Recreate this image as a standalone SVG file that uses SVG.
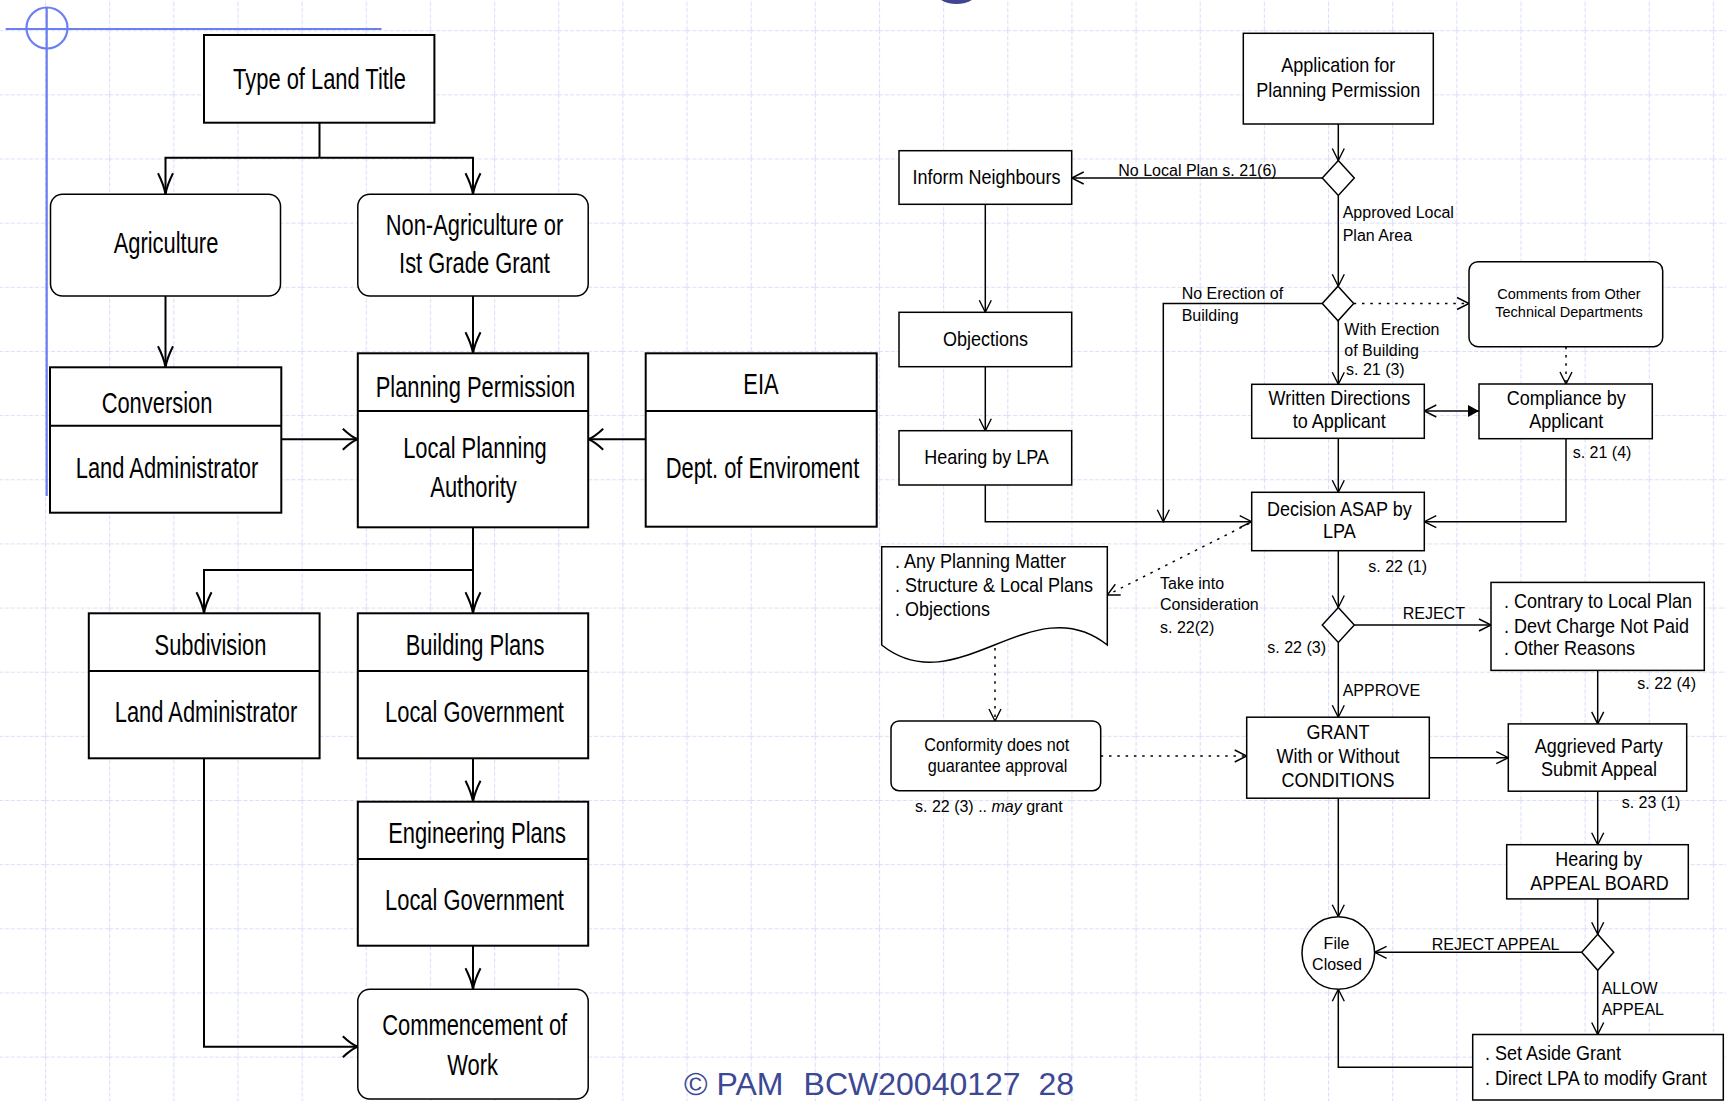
<svg xmlns="http://www.w3.org/2000/svg" width="1726" height="1101" viewBox="0 0 1726 1101">
<defs>
  <pattern id="grid" patternUnits="userSpaceOnUse" x="45" y="30.2" width="64.15" height="64.15">
    <path d="M0 0.5H64.15M0.5 0V64.15" fill="none" stroke="#d9def9" stroke-width="1.2" stroke-dasharray="4 2"/>
  </pattern>
  <!-- open arrowheads for the land-use chart (drawn narrower horizontally) -->
  <marker id="aLv" markerUnits="userSpaceOnUse" markerWidth="30" markerHeight="30" refX="0" refY="0" orient="auto" overflow="visible">
    <path d="M-21,-7.5 Q-9,-1.5 0,0 Q-9,1.5 -21,7.5" fill="none" stroke="#000" stroke-width="2"/>
  </marker>
  <marker id="aLh" markerUnits="userSpaceOnUse" markerWidth="30" markerHeight="30" refX="0" refY="0" orient="auto" overflow="visible">
    <path d="M-15,-10.5 Q-6,-2 0,0 Q-6,2 -15,10.5" fill="none" stroke="#000" stroke-width="2"/>
  </marker>
  <!-- open and filled arrowheads for the permission flowchart -->
  <marker id="aR" markerUnits="userSpaceOnUse" markerWidth="30" markerHeight="30" refX="0" refY="0" orient="auto" overflow="visible">
    <path d="M-12,-6 L0,0 L-12,6" fill="none" stroke="#000" stroke-width="1.4"/>
  </marker>
  <marker id="aF" markerUnits="userSpaceOnUse" markerWidth="30" markerHeight="30" refX="0" refY="0" orient="auto-start-reverse" overflow="visible">
    <path d="M-11,-6 L0,0 L-11,6 Z" fill="#000" stroke="none"/>
  </marker>
</defs>
<style>
  .bx{fill:#fff;stroke:#000;stroke-width:2}
  .rbx{fill:#fff;stroke:#000;stroke-width:1.5}
  .dv{stroke:#000;stroke-width:2;fill:none}
  .L{font-family:"Liberation Sans",Arial,sans-serif;font-size:30px;text-anchor:middle;fill:#000}
  .b2{fill:#fff;stroke:#000;stroke-width:1.5}
  .R{font-family:"Liberation Sans",Arial,sans-serif;font-size:20px;text-anchor:middle;fill:#000}
  .Rs{font-family:"Liberation Sans",Arial,sans-serif;font-size:20px;fill:#000}
  .C{font-family:"Liberation Sans",Arial,sans-serif;font-size:18px;text-anchor:middle;fill:#000}
  .T{font-family:"Liberation Sans",Arial,sans-serif;font-size:14.5px;text-anchor:middle;fill:#000}
  .lb{font-family:"Liberation Sans",Arial,sans-serif;font-size:16px;fill:#000}
  .lbm{font-family:"Liberation Sans",Arial,sans-serif;font-size:16px;fill:#000;text-anchor:middle}
  .cv{fill:none;stroke:#000;stroke-width:2;marker-end:url(#aLv)}
  .ch{fill:none;stroke:#000;stroke-width:2;marker-end:url(#aLh)}
  .cn{fill:none;stroke:#000;stroke-width:2}
  .cr{fill:none;stroke:#000;stroke-width:1.5;marker-end:url(#aR)}
  .cd{fill:none;stroke:#000;stroke-width:1.5;stroke-dasharray:2.5 5.8;marker-end:url(#aR)}
  .mark{fill:none;stroke:#6a7ff1;stroke-width:2.2}
</style>

<!-- page background and grid -->
<rect width="1726" height="1101" fill="#fff"/>
<rect width="1726" height="1101" fill="url(#grid)"/>

<!-- slide corner marks -->
<g id="slide-marks">
  <path class="mark" d="M5.7 29H381.5M46.7 7V496"/>
  <circle class="mark" cx="47" cy="28" r="20.5"/>
  <ellipse cx="956.5" cy="-10" rx="22" ry="14" fill="#3f4590"/>
</g>

<!-- ===== connectors ===== -->
<g id="connectors">
  <!-- land-use chart -->
  <path class="cn" d="M319.5 122.7V157.7"/>
  <path class="cv" d="M319.5 157.7H165.5V194.3"/>
  <path class="cv" d="M319.5 157.7H473V194.3"/>
  <path class="cv" d="M165.5 296V367.3"/>
  <path class="cv" d="M473 296V353.3"/>
  <path class="ch" d="M281.3 439.3H357.8"/>
  <path class="ch" d="M645.7 439.3H588.2"/>
  <path class="cv" d="M473 527.3V570H204V613.3"/>
  <path class="cv" d="M473 570V613.3"/>
  <path class="ch" d="M204 758.3V1046.7H357.8"/>
  <path class="cv" d="M473 758.3V801.7"/>
  <path class="cv" d="M473 945.7V989.3"/>

  <!-- planning permission flow -->
  <path class="cr" d="M1338.3 124V160.5"/>
  <path class="cr" d="M1322.3 178H1071.7"/>
  <path class="cr" d="M1338.3 195.5V286.2"/>
  <path class="cr" d="M985.3 204.3V312.3"/>
  <path class="cr" d="M985.3 366.7V430.7"/>
  <path class="cr" d="M985.3 485V521.7H1251.7"/>
  <path class="cr" d="M1322.3 303.5H1163.3V521.7"/>
  <path class="cd" d="M1353.7 303.5H1469"/>
  <path class="cr" d="M1338.3 320.8V384.3"/>
  <path class="cd" d="M1566 346.7V384"/>
  <path class="cr" d="M1479 411H1424.3" style="marker-start:url(#aF)"/>
  <path class="cr" d="M1566 438.7V521.7H1424.3"/>
  <path class="cr" d="M1338.3 438.3V492.3"/>
  <path class="cd" d="M1249 523.5L1107.3 595"/>
  <path class="cr" d="M1338.3 550.7V607.5"/>
  <path class="cr" d="M1354.3 625H1491"/>
  <path class="cr" d="M1338.3 642.5V717.2"/>
  <path class="cd" d="M995 648V721"/>
  <path class="cd" d="M1100.7 756H1246.7"/>
  <path class="cr" d="M1597.7 670.4V723.9"/>
  <path class="cr" d="M1429.3 757.7H1508.3"/>
  <path class="cr" d="M1338.3 798.2V916.7"/>
  <path class="cr" d="M1597.7 791.2V844.7"/>
  <path class="cr" d="M1597.7 898.9V934.3"/>
  <path class="cr" d="M1581.7 952.3H1374.6"/>
  <path class="cr" d="M1597.7 970.3V1034.5"/>
  <path class="cr" d="M1472.7 1067.2H1338.3V989.3"/>

  <!-- connector labels -->
  <text class="lb" x="1118.3" y="176">No Local Plan s. 21(6)</text>
  <text class="lb" x="1342.7" y="218.3">Approved Local</text>
  <text class="lb" x="1342.7" y="240.7">Plan Area</text>
  <text class="lb" x="1181.7" y="299">No Erection of</text>
  <text class="lb" x="1181.7" y="320.7">Building</text>
  <text class="lb" x="1344.3" y="334.5">With Erection</text>
  <text class="lb" x="1344.3" y="356">of Building</text>
  <text class="lb" x="1346" y="375">s. 21 (3)</text>
  <text class="lb" x="1572.7" y="458.3">s. 21 (4)</text>
  <text class="lb" x="1368.3" y="572">s. 22 (1)</text>
  <text class="lb" x="1160" y="589.3">Take into</text>
  <text class="lb" x="1160" y="610">Consideration</text>
  <text class="lb" x="1160" y="633.3">s. 22(2)</text>
  <text class="lb" x="1267.3" y="653.3">s. 22 (3)</text>
  <text class="lb" x="1402.7" y="619.4">REJECT</text>
  <text class="lb" x="1342.7" y="696.3">APPROVE</text>
  <text class="lb" x="1637.3" y="689.4">s. 22 (4)</text>
  <text class="lb" x="915" y="811.7">s. 22 (3) .. <tspan font-style="italic">may</tspan> grant</text>
  <text class="lb" x="1621.7" y="808.4">s. 23 (1)</text>
  <text class="lb" x="1431.7" y="949.9">REJECT APPEAL</text>
  <text class="lb" x="1601.7" y="994">ALLOW</text>
  <text class="lb" x="1601.7" y="1014.8">APPEAL</text>
</g>

<!-- ===== land-use chart nodes ===== -->
<g id="land-title">
  <rect class="bx" x="204" y="35" width="230.4" height="87.7"/>
  <text class="L" transform="translate(319.5 89) scale(.73 1)">Type of Land Title</text>
</g>
<g id="agriculture">
  <rect class="rbx" x="50.5" y="194.3" width="230" height="101.7" rx="12"/>
  <text class="L" transform="translate(166 253) scale(.73 1)">Agriculture</text>
</g>
<g id="non-agriculture">
  <rect class="rbx" x="357.8" y="194.3" width="230.4" height="101.7" rx="12"/>
  <text class="L" transform="translate(474.5 235) scale(.73 1)">Non-Agriculture or</text>
  <text class="L" transform="translate(474.5 273) scale(.73 1)">Ist Grade Grant</text>
</g>
<g id="conversion">
  <rect class="bx" x="50" y="367.3" width="231.3" height="145.4"/>
  <path class="dv" d="M50 425.7H281.3"/>
  <text class="L" transform="translate(157 413.3) scale(.73 1)">Conversion</text>
  <text class="L" transform="translate(167 478.3) scale(.73 1)">Land Administrator</text>
</g>
<g id="planning-permission">
  <rect class="bx" x="357.8" y="353.3" width="230.4" height="174"/>
  <path class="dv" d="M357.8 411H588.2"/>
  <text class="L" transform="translate(475.5 396.7) scale(.73 1)">Planning Permission</text>
  <text class="L" transform="translate(475 458.3) scale(.73 1)">Local Planning</text>
  <text class="L" transform="translate(473.5 496.7) scale(.73 1)">Authority</text>
</g>
<g id="eia">
  <rect class="bx" x="645.7" y="353.3" width="231" height="173.4"/>
  <path class="dv" d="M645.7 411H876.7"/>
  <text class="L" transform="translate(761 394) scale(.73 1)">EIA</text>
  <text class="L" transform="translate(762.5 478.3) scale(.73 1)">Dept. of Enviroment</text>
</g>
<g id="subdivision">
  <rect class="bx" x="88.8" y="613.3" width="230.8" height="145"/>
  <path class="dv" d="M88.8 671H319.6"/>
  <text class="L" transform="translate(210.5 655) scale(.73 1)">Subdivision</text>
  <text class="L" transform="translate(206 722) scale(.73 1)">Land Administrator</text>
</g>
<g id="building-plans">
  <rect class="bx" x="357.8" y="613.3" width="230.4" height="145"/>
  <path class="dv" d="M357.8 671H588.2"/>
  <text class="L" transform="translate(475 655) scale(.73 1)">Building Plans</text>
  <text class="L" transform="translate(474.5 722) scale(.73 1)">Local Government</text>
</g>
<g id="engineering-plans">
  <rect class="bx" x="357.8" y="801.7" width="230.4" height="144"/>
  <path class="dv" d="M357.8 859H588.2"/>
  <text class="L" transform="translate(477 843.3) scale(.73 1)">Engineering Plans</text>
  <text class="L" transform="translate(474.5 910) scale(.73 1)">Local Government</text>
</g>
<g id="commencement">
  <rect class="rbx" x="357.8" y="989.3" width="230.4" height="109.7" rx="12"/>
  <text class="L" transform="translate(474.7 1035) scale(.73 1)">Commencement of</text>
  <text class="L" transform="translate(472.6 1075) scale(.73 1)">Work</text>
</g>

<!-- ===== planning permission flow nodes ===== -->
<g id="application">
  <rect class="b2" x="1243.3" y="33.3" width="190" height="90.7"/>
  <text class="R" transform="translate(1338.3 71.7) scale(.9 1)">Application for</text>
  <text class="R" transform="translate(1338.3 96.7) scale(.9 1)">Planning Permission</text>
</g>
<g id="local-plan-check">
  <polygon class="b2" points="1338.3,160.5 1354.3,178 1338.3,195.5 1322.3,178"/>
</g>
<g id="inform-neighbours">
  <rect class="b2" x="899" y="150.7" width="172.7" height="53.6"/>
  <text class="R" transform="translate(986.5 184) scale(.9 1)">Inform Neighbours</text>
</g>
<g id="objections">
  <rect class="b2" x="899" y="312.3" width="172.7" height="54.4"/>
  <text class="R" transform="translate(985.5 346) scale(.9 1)">Objections</text>
</g>
<g id="hearing-lpa">
  <rect class="b2" x="899" y="430.7" width="172.7" height="54.3"/>
  <text class="R" transform="translate(986.5 464.3) scale(.9 1)">Hearing by LPA</text>
</g>
<g id="erection-check">
  <polygon class="b2" points="1338,286.2 1353.7,303.5 1338,320.8 1322.3,303.5"/>
</g>
<g id="technical-comments">
  <rect class="b2" x="1469" y="261.7" width="193.7" height="85" rx="9"/>
  <text class="T" x="1569" y="299.3">Comments from Other</text>
  <text class="T" x="1569" y="317.3">Technical Departments</text>
</g>
<g id="written-directions">
  <rect class="b2" x="1251.7" y="384.3" width="172.6" height="54"/>
  <text class="R" transform="translate(1339.3 405) scale(.9 1)">Written Directions</text>
  <text class="R" transform="translate(1339.3 428.3) scale(.9 1)">to Applicant</text>
</g>
<g id="compliance">
  <rect class="b2" x="1479" y="384" width="173.3" height="54.7"/>
  <text class="R" transform="translate(1566.3 405) scale(.9 1)">Compliance by</text>
  <text class="R" transform="translate(1566.3 428.3) scale(.9 1)">Applicant</text>
</g>
<g id="decision">
  <rect class="b2" x="1251.7" y="492.3" width="172.6" height="58.4"/>
  <text class="R" transform="translate(1339.3 515.5) scale(.9 1)">Decision ASAP by</text>
  <text class="R" transform="translate(1339.3 538.3) scale(.9 1)">LPA</text>
</g>
<g id="considerations">
  <path class="b2" d="M881.7 645V546.7H1107.3V645C1032 585 956.9 705 881.7 645Z"/>
  <text class="Rs" transform="translate(895 568.3) scale(.9 1)">. Any Planning Matter</text>
  <text class="Rs" transform="translate(895 592.3) scale(.9 1)">. Structure &amp; Local Plans</text>
  <text class="Rs" transform="translate(895 616) scale(.9 1)">. Objections</text>
</g>
<g id="decision-outcome">
  <polygon class="b2" points="1338.3,607.5 1354.3,625 1338.3,642.5 1322.3,625"/>
</g>
<g id="reject-reasons">
  <rect class="b2" x="1491" y="582.4" width="213.3" height="88"/>
  <text class="Rs" transform="translate(1504 608.3) scale(.9 1)">. Contrary to Local Plan</text>
  <text class="Rs" transform="translate(1504 632.5) scale(.9 1)">. Devt Charge Not Paid</text>
  <text class="Rs" transform="translate(1504 654.9) scale(.9 1)">. Other Reasons</text>
</g>
<g id="conformity">
  <rect class="b2" x="891" y="721" width="209.7" height="69.7" rx="8"/>
  <text class="C" transform="translate(996.7 751) scale(.9 1)">Conformity does not</text>
  <text class="C" transform="translate(997.5 772) scale(.9 1)">guarantee approval</text>
</g>
<g id="grant">
  <rect class="b2" x="1246.7" y="717.2" width="182.6" height="81"/>
  <text class="R" transform="translate(1338 739.3) scale(.9 1)">GRANT</text>
  <text class="R" transform="translate(1338 763.3) scale(.9 1)">With or Without</text>
  <text class="R" transform="translate(1338 786.7) scale(.9 1)">CONDITIONS</text>
</g>
<g id="aggrieved-party">
  <rect class="b2" x="1508.3" y="723.9" width="178.4" height="67.3"/>
  <text class="R" transform="translate(1598.8 752.5) scale(.9 1)">Aggrieved Party</text>
  <text class="R" transform="translate(1599 775.7) scale(.9 1)">Submit Appeal</text>
</g>
<g id="appeal-hearing">
  <rect class="b2" x="1506.7" y="844.7" width="181.6" height="54.2"/>
  <text class="R" transform="translate(1598.8 866.4) scale(.9 1)">Hearing by</text>
  <text class="R" transform="translate(1599.5 889.5) scale(.9 1)">APPEAL BOARD</text>
</g>
<g id="appeal-outcome">
  <polygon class="b2" points="1597.7,934.3 1613.7,952.3 1597.7,970.3 1581.7,952.3"/>
</g>
<g id="file-closed">
  <circle class="b2" cx="1338.3" cy="953" r="36.3"/>
  <text class="lbm" x="1336.5" y="949.3">File</text>
  <text class="lbm" x="1337" y="970">Closed</text>
</g>
<g id="appeal-result">
  <rect class="b2" x="1472.7" y="1034.5" width="250.6" height="65.5"/>
  <text class="Rs" transform="translate(1485 1060.3) scale(.9 1)">. Set Aside Grant</text>
  <text class="Rs" transform="translate(1485 1084.5) scale(.9 1)">. Direct LPA to modify Grant</text>
</g>

<!-- footer -->
<text font-family="'Liberation Sans',Arial,sans-serif" font-size="32" fill="#3d4894" y="1095"><tspan x="684">© PAM</tspan><tspan x="803.6">BCW20040127</tspan><tspan x="1038.4">28</tspan></text>
</svg>
